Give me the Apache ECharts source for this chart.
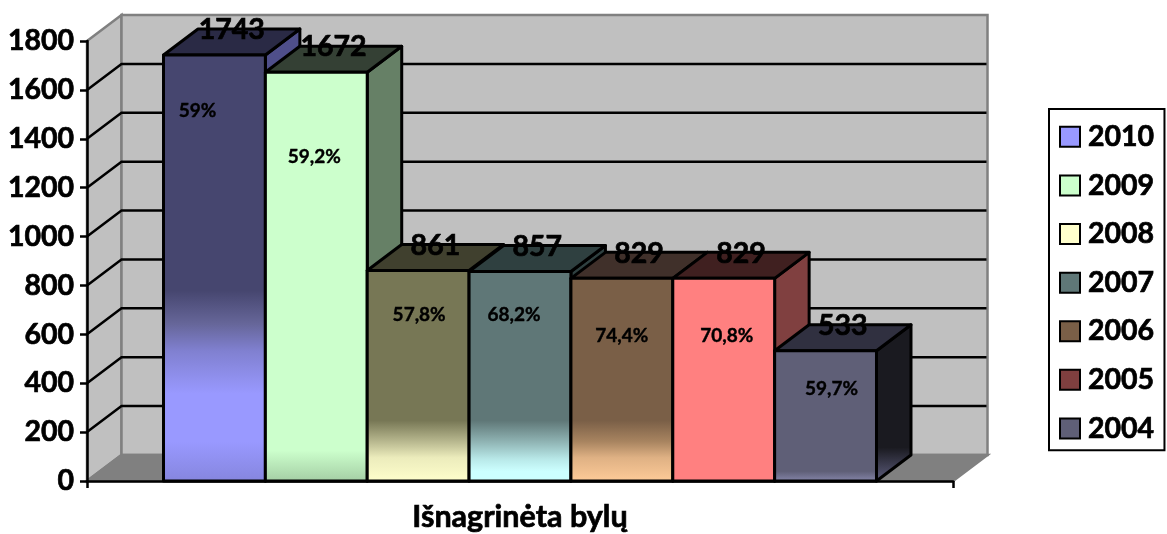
<!DOCTYPE html>
<html>
    <head>
        <meta charset="utf-8">
        <script src="https://cdn.jsdelivr.net/npm/echarts@6/dist/echarts.min.js"></script>
        <style>
            html, body { margin: 0; background: #fff; }
            #main { width: 1167px; height: 534px; }
        </style>
    </head>
    <body>
        <div id="main"></div>
        <script>
            var categories = ['Išnagrinėta bylų'];
            var years = ['2010', '2009', '2008', '2007', '2006', '2005', '2004'];
            var values = [1743, 1672, 861, 857, 829, 829, 533];
            var shares = ['59%', '59,2%', '57,8%', '68,2%', '74,4%', '70,8%', '59,7%'];
            var yTicks = [0, 200, 400, 600, 800, 1000, 1200, 1400, 1600, 1800];

            // bar face colours
            var legendColors = ['#9999ff', '#ccffcc', '#ffffcc', '#5f7777', '#7a5f47', '#7f3f3f', '#5f5f77'];
            var sideColors = ['#4f4f8a', '#668066', '#666645', '#2f4040', '#665040', '#804040', '#1a1a20'];
            var topColors = ['#2a2a45', '#344034', '#40402e', '#2f4040', '#40302a', '#402020', '#303040'];
            // front gradient, as [axis value, colour] going up from the floor
            var frontStops = [
                [[0, '#8585dd'], [165, '#9999ff'], [360, '#9999ff'], [535, '#8080d0'], [645, '#666699'], [780, '#46466f']],
                [[0, '#a3cca3'], [130, '#ccffcc']],
                [[0, '#ffffcc'], [100, '#ececbc'], [165, '#b8b88f'], [250, '#777755']],
                [[0, '#ccffff'], [45, '#ccffff'], [95, '#b8e8e8'], [165, '#8fb3b3'], [250, '#5f7777']],
                [[0, '#ffcc99'], [100, '#dfb184'], [165, '#a88460'], [250, '#7a5f47']],
                [[0, '#ff8080']],
                [[0, '#8a8ab0'], [45, '#5f5f77']]
            ];

            // layout
            var depthX = 34.5;
            var depthY = 26;
            var barBandShare = 0.8233;
            var fontName = 'Lato';
            var bigFont = 28.5;
            // hand placed percent labels in the original: shift from bar centre / bar top
            var shareShiftX = [-17, -2, 1, -6, 0, 3, 6];
            var shareShiftY = [56, 85, 44, 43, 58, 58, 38];

            function barRect(i, api) {
                var value = api.value(1);
                var base = api.coord([api.value(0), 0]);
                var top = api.coord([api.value(0), value]);
                var band = api.size([1, 0])[0];
                var w = band * barBandShare / years.length;
                var x0 = base[0] - band * barBandShare / 2 + w * i;
                return {x0: x0, x1: x0 + w, top: top[1], bottom: base[1], w: w};
            }

            function frontGradient(i, value) {
                var stops = frontStops[i];
                var list = [];
                for (var k = stops.length - 1; k >= 0; k--) {
                    list.push({offset: Math.max(0, 1 - stops[k][0] / value), color: stops[k][1]});
                }
                return {type: 'linear', x: 0, y: 0, x2: 0, y2: 1, colorStops: list};
            }

            function renderBar(i) {
                return function (params, api) {
                    var r = barRect(i, api);
                    var line = {stroke: '#000', lineWidth: 3, lineJoin: 'round'};
                    var side = sideColors[i];
                    if (i === 6) {
                        side = {type: 'linear', x: 0, y: 0, x2: 0, y2: 1, colorStops: [
                            {offset: 0, color: '#1a1a20'},
                            {offset: 0.78, color: '#1a1a20'},
                            {offset: 1, color: '#5f5f80'}
                        ]};
                    }
                    return {
                        type: 'group',
                        children: [{
                            type: 'polygon',
                            shape: {points: [[r.x1, r.top], [r.x1 + depthX, r.top - depthY], [r.x1 + depthX, r.bottom - depthY], [r.x1, r.bottom]]},
                            style: Object.assign({fill: side}, line)
                        }, {
                            type: 'polygon',
                            shape: {points: [[r.x0, r.top], [r.x0 + depthX, r.top - depthY], [r.x1 + depthX, r.top - depthY], [r.x1, r.top]]},
                            style: Object.assign({fill: topColors[i]}, line)
                        }, {
                            type: 'rect',
                            shape: {x: r.x0, y: r.top, width: r.w, height: r.bottom - r.top},
                            style: Object.assign({fill: frontGradient(i, api.value(1))}, line)
                        }]
                    };
                };
            }

            function renderWalls(params, api) {
                var cs = params.coordSys;
                var left = cs.x, right = cs.x + cs.width, top = cs.y, bottom = cs.y + cs.height;
                var edge = {stroke: '#808080', lineWidth: 2.5};
                var kids = [{
                    type: 'polygon',
                    shape: {points: [[left, top], [left + depthX, top - depthY], [left + depthX, bottom - depthY], [left, bottom]]},
                    style: Object.assign({fill: '#c0c0c0'}, edge)
                }, {
                    type: 'rect',
                    shape: {x: left + depthX, y: top - depthY, width: cs.width, height: cs.height},
                    style: Object.assign({fill: '#c0c0c0'}, edge)
                }, {
                    type: 'polygon',
                    shape: {points: [[left, bottom], [left + depthX, bottom - depthY], [right + depthX, bottom - depthY], [right, bottom]]},
                    style: Object.assign({fill: '#808080'}, edge)
                }];
                yTicks.forEach(function (t) {
                    if (t === 0 || t === 1800) {
                        return;
                    }
                    var y = api.coord([0, t])[1];
                    kids.push({
                        type: 'polyline',
                        shape: {points: [[left, y], [left + depthX, y - depthY], [right + depthX - 1, y - depthY]]},
                        style: {fill: 'none', stroke: '#000', lineWidth: 2.5}
                    });
                });
                return {type: 'group', children: kids};
            }

            function renderLabels(params, api) {
                var i = api.value(2);
                var r = barRect(i, api);
                var mid = (r.x0 + r.x1) / 2;
                return {
                    type: 'group',
                    children: [{
                        type: 'text',
                        style: {
                            text: String(api.value(1)),
                            x: mid + depthX / 2,
                            y: r.top - depthY + 1,
                            align: 'center',
                            verticalAlign: 'middle',
                            fill: '#000',
                            stroke: '#000',
                            lineWidth: 0.7,
                            font: 'bold ' + bigFont + 'px ' + fontName
                        }
                    }, {
                        type: 'text',
                        style: {
                            text: shares[i],
                            x: mid + shareShiftX[i],
                            y: r.top + shareShiftY[i],
                            align: 'center',
                            verticalAlign: 'middle',
                            fill: '#000',
                            stroke: '#000',
                            lineWidth: 0.4,
                            font: 'bold 19px ' + fontName
                        }
                    }]
                };
            }

            var series = [{
                type: 'custom',
                name: 'walls',
                z: 1,
                silent: true,
                renderItem: renderWalls,
                data: [[categories[0], 0]]
            }];
            years.forEach(function (year, i) {
                series.push({
                    type: 'custom',
                    name: year,
                    z: 2,
                    renderItem: renderBar(i),
                    encode: {x: 0, y: 1},
                    data: [[categories[0], values[i]]]
                });
            });
            series.push({
                type: 'custom',
                name: 'labels',
                z: 3,
                silent: true,
                renderItem: renderLabels,
                encode: {x: 0, y: 1},
                data: values.map(function (v, i) {
                    return [categories[0], v, i];
                })
            });

            var chart = echarts.init(document.getElementById('main'));
            chart.setOption({
                animation: false,
                backgroundColor: '#fff',
                grid: {left: 87, right: 214, top: 41, bottom: 53},
                legend: {
                    orient: 'vertical',
                    left: 1049,
                    top: 109,
                    padding: [13, 10, 7, 10],
                    itemWidth: 20,
                    itemHeight: 20,
                    itemGap: 18.9,
                    borderColor: '#000',
                    borderWidth: 2,
                    selectedMode: false,
                    textStyle: {
                        fontFamily: fontName,
                        fontWeight: 'bold',
                        fontSize: bigFont,
                        color: '#000',
                        textBorderColor: '#000',
                        textBorderWidth: 0.7,
                        padding: [0, 0, 0, 3]
                    },
                    data: years.map(function (year, i) {
                        return {
                            name: year,
                            icon: 'rect',
                            itemStyle: {color: legendColors[i], borderColor: '#000', borderWidth: 2}
                        };
                    })
                },
                xAxis: {
                    type: 'category',
                    data: categories,
                    z: 10,
                    axisLine: {lineStyle: {color: '#000', width: 2.5}},
                    axisTick: {show: true, length: 7, lineStyle: {color: '#000', width: 2.5}},
                    axisLabel: {
                        margin: 21,
                        color: '#000',
                        fontFamily: fontName,
                        fontWeight: 'bold',
                        fontSize: 30.5,
                        textBorderColor: '#000',
                        textBorderWidth: 0.7
                    }
                },
                yAxis: {
                    type: 'value',
                    min: 0,
                    max: 1800,
                    interval: 200,
                    z: 10,
                    splitLine: {show: false},
                    axisLine: {show: true, lineStyle: {color: '#000', width: 2.5}},
                    axisTick: {show: true, length: 7, lineStyle: {color: '#000', width: 2.5}},
                    axisLabel: {
                        margin: 13,
                        color: '#000',
                        fontFamily: fontName,
                        fontWeight: 'bold',
                        fontSize: bigFont,
                        textBorderColor: '#000',
                        textBorderWidth: 0.7,
                        formatter: function (v) {
                            return String(v);
                        }
                    }
                },
                series: series
            });
        </script>
    </body>
</html>
